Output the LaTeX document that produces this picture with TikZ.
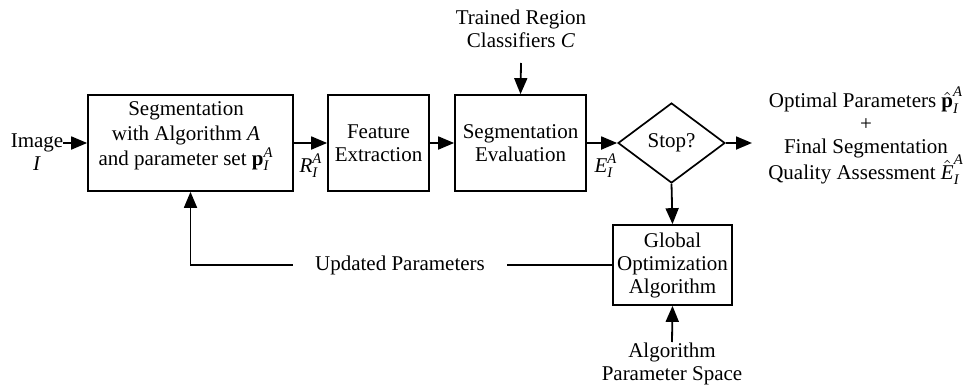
\documentclass[tikz,border=0pt]{standalone}
\usepackage{amsmath}
\usepackage{fontspec}
\setmainfont{Liberation Serif}
\usetikzlibrary{arrows.meta,shapes.geometric}
\newcommand{\mysub}[2]{#1_{\textit{#2}}^{\textit{A}}}
\tikzset{
  every node/.style={font=\fontsize{10.5}{11.5}\selectfont, inner sep=0pt, align=center},
  box/.style={draw, line width=0.85pt, rectangle, minimum height=48pt},
  arr/.style={line width=0.9pt, -{Triangle[length=8pt,width=6.5pt]}},
  ln/.style={line width=0.9pt},
}
\begin{document}
\begin{tikzpicture}[x=0.5pt,y=-0.5pt]
\path[use as bounding box] (0,0) rectangle (968,390);
% boxes
\node[box, minimum width=102.5pt] (seg) at (190.5,143) {};
\node[font=\fontsize{10.5}{12.5}\selectfont] (segtxt) at (186,136) {Segmentation\\with Algorithm \textit{A}\\and parameter set $\mysub{\textbf{p}}{I}$};
\node[box, minimum width=50.5pt] (feat) at (378.5,143) {Feature\\Extraction};
\node[box, minimum width=65.5pt] (eval) at (520.5,143) {Segmentation\\Evaluation};
\node[draw, line width=0.85pt, shape=diamond, minimum width=53.5pt, minimum height=40pt] (stop) at (671.5,143) {Stop?};
\node[box, minimum width=59.5pt, minimum height=40pt] (glob) at (672.5,265) {Global\\Optimization\\Algorithm};
% texts
\node[inner xsep=1pt] (img) at (37,152) {Image\\\textit{I}};
\node (trc) at (521,29) {Trained Region\\Classifiers \textit{C}};
\node (aps) at (672,364) {Algorithm\\Parameter Space};
\node[inner xsep=11pt] (upd) at (400,265) {Updated Parameters};
\node (out) at (866,136) {Optimal Parameters $\mysub{\hat{\textbf{p}}}{I}$\\+\\Final Segmentation\\[-2.5pt]Quality Assessment $\mysub{\hat{\textit{E}}}{I}$};
\node (rlab) at (311,166) {$\mysub{\textit{R}}{I}$};
\node (elab) at (606,166) {$\mysub{\textit{E}}{I}$};
% coordinates
\coordinate (imgend) at (63,143);
\coordinate (trcend) at (521,63);
\coordinate (apsend) at (672,342);
\coordinate (outend) at (752,143);
% connectors
\draw[arr] (imgend) -- (seg.west);
\draw[arr] (seg.east) -- (feat.west);
\draw[arr] (feat.east) -- (eval.west);
\draw[arr] (eval.east) -- (stop.west);
\draw[arr] (stop.east) -- (outend);
\draw[arr] (trcend) -- (eval.north);
\draw[arr] (stop.south) -- (glob.north);
\draw[arr] (apsend) -- (glob.south);
\draw[ln] (glob.west) -- (upd.east);
\draw[arr] (upd.west) -| (seg.south);
\end{tikzpicture}
\end{document}
